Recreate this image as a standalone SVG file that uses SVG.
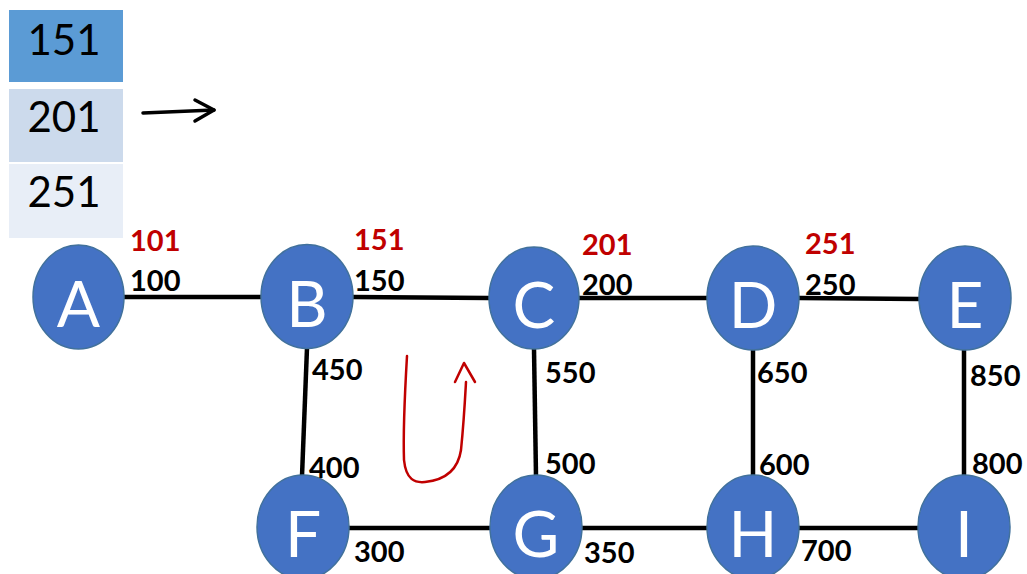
<svg xmlns="http://www.w3.org/2000/svg" width="1027" height="574" viewBox="0 0 1027 574">
<defs>
<style>
.node ellipse{fill:#4472C4;stroke:#41719C;stroke-width:1.5}
.node text{font-family:Lato,"Liberation Sans",sans-serif;font-size:64px;fill:#fff;text-anchor:middle}
.edge{stroke:#000;stroke-width:4.5;fill:none}
.w{font-family:Lato,"Liberation Sans",sans-serif;font-size:29px;font-weight:bold;fill:#000}
.r{font-family:Lato,"Liberation Sans",sans-serif;font-size:29px;font-weight:bold;fill:#C00000}
.cell{font-family:Lato,"Liberation Sans",sans-serif;font-size:42px;fill:#000;text-anchor:middle}
</style>
</defs>
<rect width="1027" height="574" fill="#fff"/>
<g id="table">
<rect x="9" y="10" width="114" height="72" fill="#5B9BD5"/>
<rect x="9" y="89" width="114" height="73" fill="#CCDAEC"/>
<rect x="9" y="164" width="114" height="74" fill="#E8EEF7"/>
<text class="cell" x="64" y="55">151</text>
<text class="cell" x="64" y="132">201</text>
<text class="cell" x="64" y="207">251</text>
</g>
<g id="pointer" stroke="#000" stroke-width="3.5" fill="none" stroke-linecap="round" stroke-linejoin="round">
<path d="M143 113 L214 110"/>
<path d="M195 100 L214 110 L195 121"/>
</g>
<g id="connectors">
<path class="edge" d="M124 297 L261 297"/>
<path class="edge" d="M353 297 L489 298"/>
<path class="edge" d="M579 298 L707 298"/>
<path class="edge" d="M799 298 L919 299"/>
<path class="edge" d="M307 348 L302 476"/>
<path class="edge" d="M534 349 L536 476"/>
<path class="edge" d="M753 350 L753 476"/>
<path class="edge" d="M964 350 L964 476"/>
<path class="edge" d="M349 528 L490 528"/>
<path class="edge" d="M582 528 L707 528"/>
<path class="edge" d="M799 528 L918 528"/>
</g>
<g id="uturn" stroke="#C00000" stroke-width="2.5" fill="none" stroke-linecap="round" stroke-linejoin="round">
<path d="M407 356 C405 390 403 430 404 460 C406 480 415 483 425 482 C445 480 458 470 461 450 C464 420 465 400 466 382"/>
<path d="M455 382 L464 363 L475 382"/>
</g>
<g id="node-A" class="node"><ellipse cx="78.5" cy="297" rx="45.5" ry="52"/><text x="78.5" y="327">A</text></g>
<g id="node-B" class="node"><ellipse cx="307" cy="296.5" rx="46" ry="52"/><text x="307" y="327">B</text></g>
<g id="node-C" class="node"><ellipse cx="534" cy="298" rx="45" ry="51"/><text x="534" y="328">C</text></g>
<g id="node-D" class="node"><ellipse cx="753" cy="298" rx="46" ry="52"/><text x="753" y="328">D</text></g>
<g id="node-E" class="node"><ellipse cx="965" cy="298" rx="46" ry="52"/><text x="965" y="328">E</text></g>
<g id="node-F" class="node"><ellipse cx="303" cy="527" rx="46" ry="52"/><text x="303" y="557">F</text></g>
<g id="node-G" class="node"><ellipse cx="536" cy="527" rx="46" ry="52"/><text x="536" y="557">G</text></g>
<g id="node-H" class="node"><ellipse cx="753" cy="527" rx="46" ry="52"/><text x="753" y="557">H</text></g>
<g id="node-I" class="node"><ellipse cx="964" cy="527" rx="46" ry="52"/><text x="964" y="557">I</text></g>
<g id="labels">
<text class="r" x="130" y="251">101</text>
<text class="w" x="130" y="291">100</text>
<text class="r" x="354" y="250">151</text>
<text class="w" x="354" y="291">150</text>
<text class="r" x="582" y="255">201</text>
<text class="w" x="582" y="295">200</text>
<text class="r" x="805" y="254">251</text>
<text class="w" x="805" y="295">250</text>
<text class="w" x="312" y="380">450</text>
<text class="w" x="309" y="478">400</text>
<text class="w" x="545" y="383">550</text>
<text class="w" x="545" y="474">500</text>
<text class="w" x="354" y="562">300</text>
<text class="w" x="584" y="563">350</text>
<text class="w" x="757" y="383">650</text>
<text class="w" x="759" y="475">600</text>
<text class="w" x="970" y="386">850</text>
<text class="w" x="972" y="474">800</text>
<text class="w" x="801" y="561">700</text>
</g>
</svg>
